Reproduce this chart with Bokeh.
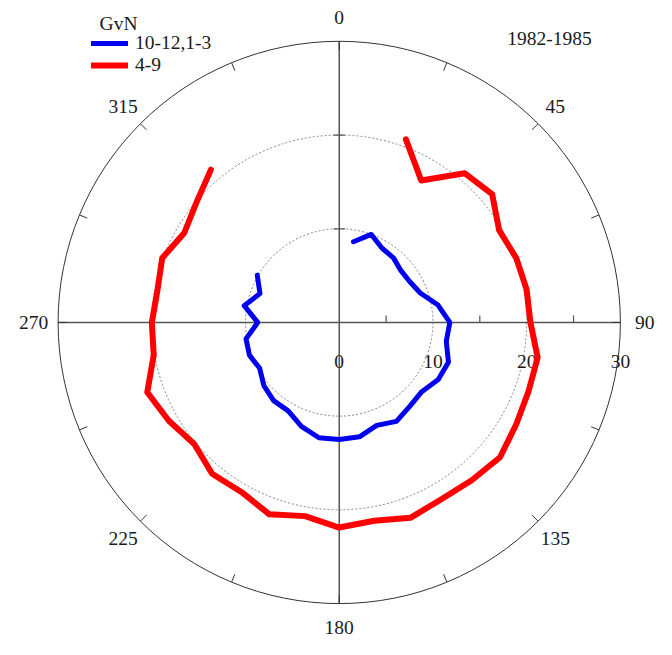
import numpy as np
from bokeh.plotting import figure
from bokeh.models import Range1d, Legend, LegendItem, Label
from bokeh.core.properties import value
from bokeh.embed import file_html
from bokeh.resources import INLINE

# ---- data (direction in degrees clockwise from north, value on radial scale) ----
blue_label = "10-12,1-3"
blue_dir = [10, 20, 30, 40, 50, 60, 70, 80, 90, 100, 110, 120, 130, 140, 150,
            160, 170, 180, 190, 200, 210, 220, 230, 240, 250, 260, 270, 280, 290, 300]
blue_val = [8.75, 10.0, 9.15, 9.0, 8.6, 8.7, 9.2, 10.7, 11.8, 11.6, 12.4, 12.2, 11.5, 11.7, 12.2,
            11.7, 12.4, 12.5, 12.5, 11.8, 10.9, 10.9, 10.5, 9.8, 10.2, 10.1, 8.7, 10.3, 9.0, 10.1]

red_label = "4-9"
red_dir = [20, 30, 40, 50, 60, 70, 80, 90, 100, 110, 120, 130, 140, 150, 160, 170,
           180, 190, 200, 210, 220, 230, 240, 250, 260, 270, 280, 290, 300, 310, 320]
red_val = [20.8, 17.5, 20.8, 21.3, 19.7, 20.1, 20.3, 20.4, 21.5, 21.5, 21.8, 22.4, 22.0, 21.8, 22.2, 21.5,
           21.9, 21.0, 21.8, 20.9, 21.1, 20.2, 21.0, 21.8, 20.1, 20.0, 19.7, 20.1, 19.1, 19.9, 21.3]

radial_ticks = [0, 10, 20, 30]
grid_rings = [10, 20]
r_max = 30
angle_labels = [0, 45, 90, 135, 180, 225, 270, 315]
legend_title = "GvN"
period_text = "1982-1985"

FONT = "Liberation Serif"
FS = "19.5px"
TXT = "#1a1a1a"


def to_xy(deg, r):
    a = np.radians(np.asarray(deg, dtype=float))
    r = np.asarray(r, dtype=float)
    return r * np.sin(a), r * np.cos(a)


W, H = 656, 639
# view spans the same units as the 672x655 reference (9.6 px/unit there)
ref_scale = 9.6
x_lo, x_hi = -347 / ref_scale, (672 - 347) / ref_scale
y_lo, y_hi = -(655 - 330) / ref_scale, 330 / ref_scale

p = figure(width=W, height=H, output_backend="svg", toolbar_location=None,
           x_range=Range1d(x_lo, x_hi), y_range=Range1d(y_lo, y_hi),
           x_axis_location=None, y_axis_location=None, min_border=0)
p.grid.visible = False
p.outline_line_color = None

# rings
for rr in grid_rings:
    p.circle(x=0, y=0, radius=rr, fill_color=None, line_color="#777777",
             line_width=0.9, line_dash="2 2")
p.circle(x=0, y=0, radius=r_max, fill_color=None, line_color="#333333", line_width=1)

# axes
p.segment(x0=[-r_max, 0], y0=[0, -r_max], x1=[r_max, 0], y1=[0, r_max],
          line_color="#555555", line_width=1.5)

# outer ticks every 22.5 degrees, inward
tick_dirs = np.arange(0, 360, 22.5)
ox, oy = to_xy(tick_dirs, np.full(len(tick_dirs), r_max))
ix, iy = to_xy(tick_dirs, np.full(len(tick_dirs), r_max - 0.9))
p.segment(x0=ox, y0=oy, x1=ix, y1=iy, line_color="#333333", line_width=1)

# radial axis ticks
minor_r = [5, 15, 25]
p.segment(x0=minor_r, y0=[0] * 3, x1=minor_r, y1=[0.75] * 3, line_color="#555555", line_width=1.2)
p.segment(x0=[-0.6] * 2, y0=grid_rings, x1=[0.6] * 2, y1=grid_rings, line_color="#555555", line_width=1.2)

# radial labels
p.text(x=radial_ticks, y=[-4.2] * len(radial_ticks), text=[str(v) for v in radial_ticks],
       text_font=value(FONT), text_font_size=FS, text_align="center",
       text_baseline="middle", text_color=TXT)

# angle labels
lx, ly = to_xy(angle_labels, np.full(len(angle_labels), 32.6))
p.text(x=lx, y=ly, text=[str(a) for a in angle_labels], text_font=value(FONT),
       text_font_size=FS, text_align="center", text_baseline="middle", text_color=TXT)

# data lines
bx, by = to_xy(blue_dir, blue_val)
rx, ry = to_xy(red_dir, red_val)
rb = p.line(bx, by, line_color="#0000ee", line_width=5, line_join="round", line_cap="round")
rr_ = p.line(rx, ry, line_color="#ff0000", line_width=6, line_join="round", line_cap="round")

legend = Legend(items=[LegendItem(label=blue_label, renderers=[rb]),
                       LegendItem(label=red_label, renderers=[rr_])],
                location=(91, 563),
                label_text_font=FONT, label_text_font_size=FS, label_text_color=TXT,
                glyph_width=37, glyph_height=20, label_height=20, spacing=-1,
                label_standoff=7, padding=0, margin=0,
                border_line_color=None, background_fill_alpha=0)
p.add_layout(legend, "center")

p.add_layout(Label(x=118, y=H - 22.5, x_units="screen", y_units="screen", text=legend_title,
                   text_font=FONT, text_font_size=FS, text_color=TXT,
                   text_align="center", text_baseline="middle"))

p.add_layout(Label(x=549, y=H - 38, x_units="screen", y_units="screen", text=period_text,
                   text_font=FONT, text_font_size=FS, text_color=TXT,
                   text_align="center", text_baseline="middle"))

open("out.html", "w").write(file_html(p, INLINE))
